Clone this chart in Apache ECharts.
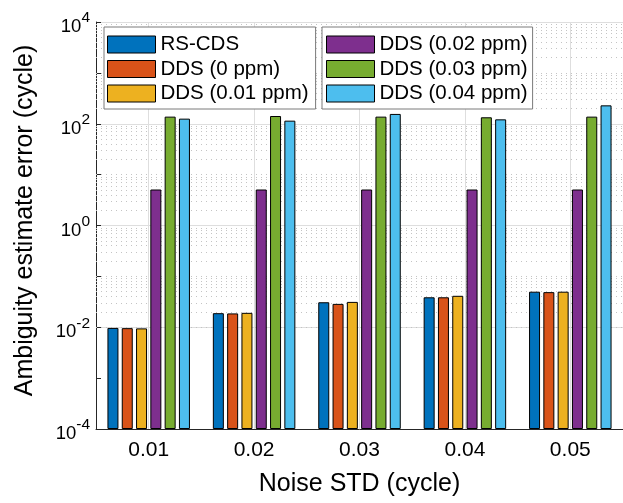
<!DOCTYPE html>
<html>
<head>
<meta charset="utf-8">
<script src="https://cdn.jsdelivr.net/npm/echarts@6/dist/echarts.min.js"></script>
<style>
  html, body { margin: 0; padding: 0; background: #fff; }
  #chart { width: 623px; height: 503px; }
</style>
</head>
<body>
<div id="chart"></div>
<script>
// Noise levels (cycle) on the x axis
const categories = ['0.01', '0.02', '0.03', '0.04', '0.05'];

// Ambiguity estimate error (cycle) per method
const rsCds   = [0.0097, 0.0189, 0.031, 0.0388, 0.050];
const dds0    = [0.0096, 0.0187, 0.0288, 0.0388, 0.049];
const dds001  = [0.0095, 0.0192, 0.0315, 0.0415, 0.050];
const dds002  = [5.1, 5.1, 5.1, 5.1, 5.1];
const dds003  = [138, 142, 138, 134, 138];
const dds004  = [126, 115, 156, 122, 230];

const seriesNames = ['RS-CDS', 'DDS (0 ppm)', 'DDS (0.01 ppm)', 'DDS (0.02 ppm)', 'DDS (0.03 ppm)', 'DDS (0.04 ppm)'];
const seriesData  = [rsCds, dds0, dds001, dds002, dds003, dds004];
const colors = ['#0072BD', '#D95319', '#EDB120', '#7E2F8E', '#77AC30', '#4DBEEE'];

// Log-axis limits and minor grid positions (2..9 within each decade, plus odd decades)
const yMin = 1e-4, yMax = 1e4;
const minorGrid = [];
for (let k = -4; k < 4; k++) {
  for (let m = 1; m <= 9; m++) {
    if (m === 1 && k % 2 === 0) continue;
    minorGrid.push(m * Math.pow(10, k));
  }
}

const FONT = '"Liberation Sans", Arial, Helvetica, sans-serif';
const AX = '#262626';

const chart = echarts.init(document.getElementById('chart'), null, { renderer: 'canvas' });

const series = seriesNames.map((name, i) => {
  const s = {
    name: name,
    type: 'bar',
    data: seriesData[i],
    barWidth: 11,
    barGap: '30%',
    itemStyle: { color: colors[i], borderColor: '#000', borderWidth: 1 },
    z: 2
  };
  if (i === 0) {
    // dotted minor grid lines, kept beneath the bars
    s.markLine = {
      silent: true,
      symbol: 'none',
      z: 1,
      label: { show: false },
      emphasis: { disabled: true },
      animation: false,
      lineStyle: { color: '#c4c4c4', type: [1, 4], width: 1 },
      data: minorGrid.map(v => ({ yAxis: v }))
    };
  }
  return s;
});

const legendCommon = {
  orient: 'vertical',
  top: 27,
  itemWidth: 48,
  itemHeight: 17,
  itemGap: 3.5,
  backgroundColor: '#fff',
  borderColor: '#7a7a7a',
  borderWidth: 1,
  icon: 'rect',
  itemStyle: { borderColor: '#000', borderWidth: 1 },
  textStyle: { fontFamily: FONT, fontSize: 20.5, color: '#000' },
  selectedMode: false
};

chart.setOption({
  animation: false,
  color: colors,
  textStyle: { fontFamily: FONT },
  grid: { left: 96, top: 20, width: 532, height: 409, containLabel: false },
  legend: [
    Object.assign({}, legendCommon, { left: 104, padding: [7, 7, 5, 3], data: seriesNames.slice(0, 3) }),
    Object.assign({}, legendCommon, { left: 322, padding: [7, 5, 5, 4], data: seriesNames.slice(3) })
  ],
  xAxis: {
    type: 'category',
    data: categories,
    name: 'Noise STD (cycle)',
    nameLocation: 'middle',
    nameGap: 43,
    nameTextStyle: { fontFamily: FONT, fontSize: 25, color: '#000' },
    axisLine: { lineStyle: { color: AX, width: 1 } },
    axisTick: { inside: true, alignWithLabel: true, length: 5, lineStyle: { color: AX } },
    axisLabel: { fontFamily: FONT, fontSize: 21, color: '#000', margin: 11 },
    splitLine: { show: true, alignWithLabel: true, lineStyle: { color: '#dedede', width: 1 } }
  },
  yAxis: {
    type: 'log',
    logBase: 10,
    min: yMin,
    max: yMax,
    startValue: yMin,
    splitNumber: 8,
    name: 'Ambiguity estimate error (cycle)',
    nameLocation: 'middle',
    nameGap: 58,
    nameTextStyle: { fontFamily: FONT, fontSize: 25, color: '#000', padding: [0, 0, 0, 10] },
    axisLine: { show: true, lineStyle: { color: AX, width: 1 } },
    axisTick: { show: true, inside: true, length: 5, lineStyle: { color: AX } },
    axisLabel: {
      fontFamily: FONT,
      fontSize: 18.5,
      color: '#000',
      margin: 6,
      lineHeight: 34,
      padding: [10, 0, 0, 0],
      formatter: function (v) {
        const e = Math.round(Math.log10(v));
        if (e % 2 !== 0) return '';
        return '10{s|' + e + '}';
      },
      rich: {
        s: { fontFamily: FONT, fontSize: 15.5, lineHeight: 16, verticalAlign: 'top', color: '#000' }
      }
    },
    splitLine: { show: true, lineStyle: { color: ['#dedede', 'transparent'], width: 1 } }
  },
  series: series
});
</script>
</body>
</html>
